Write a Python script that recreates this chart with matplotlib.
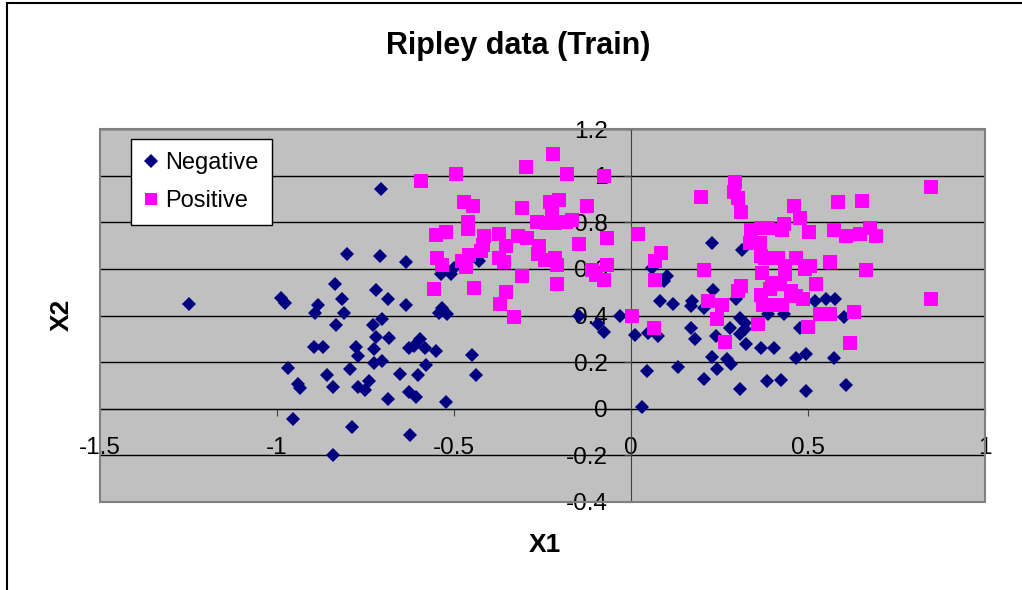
import matplotlib
matplotlib.use("Agg")
import matplotlib.pyplot as plt
from matplotlib.patches import Rectangle
from matplotlib.lines import Line2D
from matplotlib.ticker import FormatStrFormatter

plt.rcParams['font.family'] = ['Liberation Sans', 'DejaVu Sans']
plt.rcParams['axes.unicode_minus'] = False

# %% data (class 0 = Negative, class 1 = Positive)
neg_x = [-1.248, -0.990, -0.976, -0.968, -0.941, -0.935, -0.955,
         -0.803, -0.708, -0.636, -0.837, -0.720, -0.815, -0.686, -0.636, -0.883, -0.894,
         -0.810, -0.832, -0.702, -0.730, -0.721, -0.685, -0.895, -0.871, -0.777, -0.770,
         -0.725, -0.725, -0.702, -0.793, -0.860, -0.652, -0.843, -0.770, -0.751, -0.741,
         -0.686, -0.627, -0.608, -0.601, -0.580, -0.552, -0.627, -0.613, -0.597, -0.582,
         -0.523, -0.788, -0.624, -0.843, -0.542, -0.535, -0.519, -0.538, -0.509, -0.500,
         -0.450, -0.437, -0.706, -0.430,
         -0.148, -0.092, -0.077, -0.030, 0.031,
         0.228, 0.314, 0.059, 0.101, 0.092, 0.232, 0.082, 0.120, 0.173, 0.170, 0.207,
         0.298, 0.012, 0.049, 0.075, 0.170, 0.181, 0.240, 0.308, 0.322, 0.279, 0.308,
         0.322, 0.326, 0.366, 0.230, 0.270, 0.282, 0.242, 0.134, 0.045, 0.207, 0.309,
         0.385,
         0.519, 0.552, 0.575, 0.387, 0.432, 0.603, 0.477, 0.404, 0.467, 0.495, 0.573,
         0.425, 0.495, 0.608]
neg_y = [0.450, 0.476, 0.454, 0.176, 0.108, 0.091, -0.044,
         0.664, 0.655, 0.628, 0.536, 0.510, 0.469, 0.469, 0.443, 0.447, 0.410,
         0.410, 0.358, 0.385, 0.358, 0.308, 0.305, 0.264, 0.264, 0.264, 0.226,
         0.258, 0.195, 0.205, 0.170, 0.144, 0.151, 0.094, 0.094, 0.080, 0.120,
         0.041, 0.070, 0.051, 0.144, 0.187, 0.248, 0.259, 0.269, 0.298, 0.262,
         0.031, -0.077, -0.111, -0.197, 0.412, 0.433, 0.405, 0.576, 0.576, 0.604,
         0.231, 0.145, 0.944, 0.632,
         0.397, 0.362, 0.330, 0.397, 0.008,
         0.711, 0.679, 0.604, 0.568, 0.547, 0.511, 0.462, 0.450, 0.462, 0.440, 0.433,
         0.469, 0.315, 0.323, 0.312, 0.345, 0.298, 0.312, 0.390, 0.369, 0.347, 0.319,
         0.341, 0.276, 0.262, 0.224, 0.212, 0.191, 0.170, 0.177, 0.162, 0.127, 0.084,
         0.120,
         0.462, 0.469, 0.469, 0.405, 0.407, 0.393, 0.348, 0.262, 0.219, 0.236, 0.219,
         0.123, 0.077, 0.101]

pos_x = [-0.594, -0.495, -0.298, -0.220, -0.181, -0.077, -0.472, -0.446, -0.309, -0.230,
         -0.204, -0.125, -0.460, -0.460, -0.265, -0.237, -0.223, -0.214, -0.185, -0.552,
         -0.523, -0.415, -0.373, -0.319, -0.293, -0.417, -0.354, -0.261, -0.148, -0.068,
         -0.425, -0.458, -0.547, -0.535, -0.477, -0.467, -0.373, -0.359, -0.263, -0.242,
         -0.215, -0.209, -0.068, -0.110, -0.077, -0.209, -0.309, -0.444, -0.556, -0.354,
         -0.370, -0.331, 0.002, 0.020, -0.167, -0.100,
         0.197, 0.295, 0.292, 0.303, 0.310, 0.340, 0.368, 0.336, 0.364, 0.368,
         0.084, 0.068, 0.068, 0.207, 0.371, 0.312, 0.303, 0.368, 0.218, 0.258,
         0.373, 0.242, 0.359, 0.066, 0.265,
         0.847, 0.585, 0.652, 0.461, 0.478, 0.387, 0.432, 0.427, 0.503, 0.573,
         0.608, 0.646, 0.676, 0.691, 0.378, 0.415, 0.467, 0.505, 0.491, 0.563,
         0.434, 0.434, 0.663, 0.523, 0.420, 0.392, 0.453, 0.467, 0.486, 0.383,
         0.427, 0.847, 0.533, 0.561, 0.630, 0.500, 0.618, 0.397, 0.425]
pos_y = [0.977, 1.007, 1.038, 1.091, 1.007, 0.999, 0.886, 0.868, 0.860, 0.889,
         0.896, 0.868, 0.803, 0.772, 0.800, 0.796, 0.839, 0.796, 0.803, 0.744,
         0.758, 0.739, 0.749, 0.739, 0.732, 0.704, 0.697, 0.697, 0.706, 0.732,
         0.675, 0.661, 0.647, 0.615, 0.632, 0.607, 0.647, 0.629, 0.664, 0.640,
         0.647, 0.615, 0.618, 0.597, 0.554, 0.536, 0.571, 0.518, 0.512, 0.501,
         0.450, 0.393, 0.397, 0.748, 0.811, 0.575,
         0.910, 0.971, 0.929, 0.903, 0.843, 0.768, 0.775, 0.711, 0.711, 0.654,
         0.668, 0.632, 0.554, 0.597, 0.582, 0.526, 0.504, 0.490, 0.462, 0.443,
         0.447, 0.383, 0.365, 0.348, 0.288,
         0.953, 0.886, 0.893, 0.868, 0.818, 0.775, 0.792, 0.765, 0.758, 0.768,
         0.739, 0.749, 0.775, 0.739, 0.647, 0.647, 0.647, 0.611, 0.601, 0.630,
         0.611, 0.576, 0.595, 0.536, 0.536, 0.512, 0.504, 0.483, 0.469, 0.444,
         0.444, 0.469, 0.407, 0.407, 0.416, 0.350, 0.281, 0.540, 0.447]

x_ticks = [-1.5, -1, -0.5, 0, 0.5, 1]
y_ticks = [-0.4, -0.2, 0, 0.2, 0.4, 0.6, 0.8, 1.0, 1.2]

# %% figure
W, H = 1022, 590
fig = plt.figure(figsize=(W / 100, H / 100), dpi=100)
ax = fig.add_axes([100 / W, 88 / H, 885 / W, 373 / H])
ax.set_facecolor('#C0C0C0')
ax.set_xlim(-1.5, 1)
ax.set_ylim(-0.4, 1.2)

ax.plot(neg_x, neg_y, 'D', color='#000080', ms=7.2, mew=0, label='Negative', zorder=3)
ax.plot(pos_x, pos_y, 's', color='#FF00FF', ms=9.6, mew=0, label='Positive', zorder=4)

ax.set_xticks(x_ticks)
ax.set_yticks(y_ticks)
ax.xaxis.set_major_formatter(FormatStrFormatter('%g'))
ax.yaxis.set_major_formatter(FormatStrFormatter('%g'))
ax.yaxis.grid(True, color='black', lw=1)
ax.set_axisbelow(True)

for s in ['top', 'right']:
    ax.spines[s].set_visible(False)
ax.spines['left'].set_position(('data', 0))
ax.spines['bottom'].set_position(('data', 0))
ax.spines['left'].set_color('#404040')
ax.spines['bottom'].set_color('black')
ax.tick_params(axis='x', direction='out', length=5, pad=15, labelsize=17.5, color='#404040')
ax.tick_params(axis='y', direction='out', length=5, pad=12, labelsize=17.5, color='#404040')

ax.add_patch(Rectangle((0, 0), 1, 1, transform=ax.transAxes, fill=False,
                       edgecolor='#808080', lw=1.5, clip_on=False, zorder=5))

leg = ax.legend(loc='upper left', bbox_to_anchor=(131 / W, 1 - 139 / H),
                bbox_transform=fig.transFigure, borderaxespad=0, fontsize=17,
                frameon=True, fancybox=False, framealpha=1, edgecolor='black',
                handletextpad=0.3, handlelength=0.6, labelspacing=0.69,
                borderpad=0.55, markerscale=0.95)
leg.get_frame().set_linewidth(1)

fig.text(518 / W, 1 - 46 / H, 'Ripley data (Train)', ha='center', va='center',
         fontsize=22, fontweight='bold')
fig.text(545 / W, 1 - 545 / H, 'X1', ha='center', va='center', fontsize=19, fontweight='bold')
fig.text(62 / W, 1 - 315 / H, 'X2', ha='center', va='center', fontsize=19,
         fontweight='bold', rotation=90)

# chart frame (left and top edges)
fig.add_artist(Line2D([7 / W, 7 / W], [0, 1 - 3 / H], transform=fig.transFigure, color='black', lw=1.5))
fig.add_artist(Line2D([7 / W, 1], [1 - 3 / H, 1 - 3 / H], transform=fig.transFigure, color='black', lw=1.5))

fig.savefig('out.png', dpi=100)
